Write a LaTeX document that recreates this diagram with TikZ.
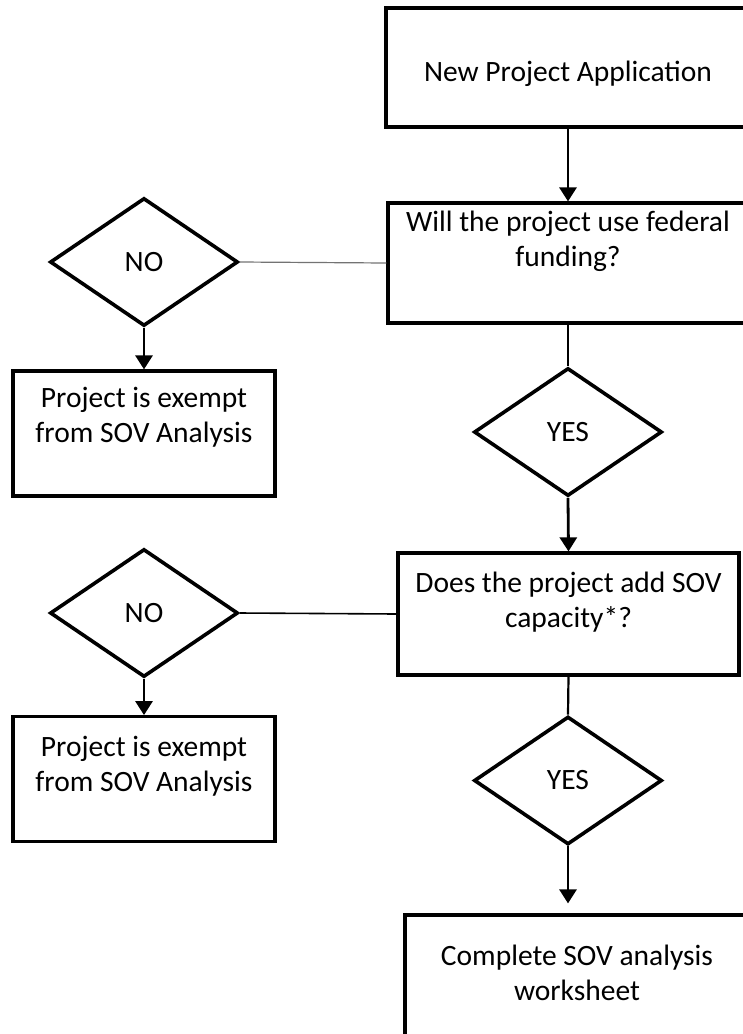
\documentclass[tikz,border=0pt]{standalone}
\usepackage{fontspec}
\setmainfont{Carlito}
\usetikzlibrary{shapes.geometric,arrows.meta}
\begin{document}
\begin{tikzpicture}[x=1pt,y=-1pt,
  txt/.style={font=\fontsize{29.5}{35}\selectfont},
  box/.style={txt, draw, line width=3.2pt, rectangle, align=center, inner sep=0pt, text height=57pt},
  dia/.style={txt, draw, line width=3.6pt, diamond, minimum width=188pt, minimum height=128pt, inner sep=0pt},
  arr/.style={line width=2.8pt, -{Triangle[width=17pt,length=14pt]}},
  thinlink/.style={line width=1.2pt, draw=black!55},
  link/.style={line width=2.2pt}]
\useasboundingbox (0,0) rectangle (743,1034);
\clip (0,0) rectangle (743,1034);
% right column boxes
\node[box, minimum width=364pt, minimum height=119pt, text height=28.4pt, text depth=0pt] (b1) at (568,67.5) {New Project Application};
\node[box, minimum width=360pt, minimum height=120pt, text depth=49.6pt] (b2) at (568,263) {Will the project use federal\\funding?};
\node[box, minimum width=341pt, minimum height=122pt, text depth=31pt] (b3) at (568.5,614) {Does the project add SOV\\capacity*?};
\node[box, minimum width=344pt, minimum height=150pt, text depth=37pt] (b4) at (577,990) {Complete SOV analysis\\worksheet};
% left column boxes
\node[box, minimum width=262pt, minimum height=125pt, text depth=40pt] (ex1) at (144,433.5) {Project is exempt\\from SOV Analysis};
\node[box, minimum width=262pt, minimum height=125pt, text depth=32pt] (ex2) at (144,779.2) {Project is exempt\\from SOV Analysis};
% decisions
\node[dia] (no1) at (144,262) {NO};
\node[dia] (yes1) at (568,432) {YES};
\node[dia] (no2) at (144,613) {NO};
\node[dia] (yes2) at (568,780.5) {YES};
% connectors
\draw[arr] (b1.south) -- (b2.north);
\draw[thinlink] (no1.east) -- (b2.west);
\draw[link] (b2.south) -- (yes1.north);
\draw[arr] (no1.south) -- (ex1.north);
\draw[arr] (yes1.south) -- (b3.north);
\draw[line width=1.6pt] (b3.west) -- (no2.east);
\draw[link] (b3.south) -- (yes2.north);
\draw[arr] (no2.south) -- (ex2.north);
\draw[arr, shorten >=10pt] (yes2.south) -- (yes2.south |- b4.north);
\end{tikzpicture}
\end{document}
